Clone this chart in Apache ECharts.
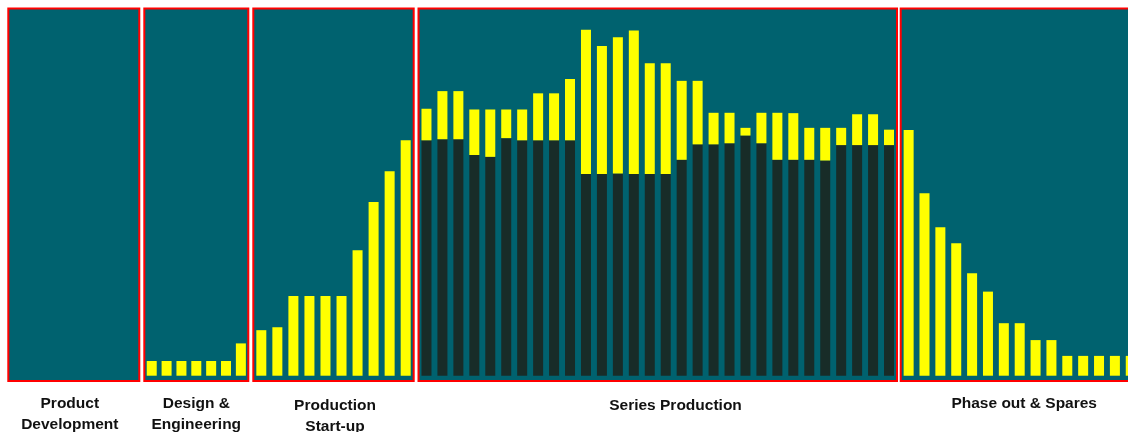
<!DOCTYPE html>
<html>
<head>
<meta charset="utf-8">
<script src="https://cdn.jsdelivr.net/npm/echarts@6/dist/echarts.min.js"></script>
<style>
html,body{margin:0;padding:0;background:#ffffff;}
#chart{width:1128px;height:432px;}
</style>
</head>
<body>
<div id="chart"></div>
<script>
// ---- data ----
const phaseNames = ['Product\nDevelopment', 'Design &\nEngineering', 'Production\nStart-up', 'Series Production', 'Phase out & Spares'];
const productDevelopment = [];
const designEngineering = [4.0, 4.0, 4.0, 4.0, 4.0, 4.0, 8.8];
const productionStartUp = [12.4, 13.2, 21.7, 21.7, 21.7, 21.7, 34.2, 47.3, 55.7, 64.1];
const seriesBase = [64.1, 64.4, 64.4, 60.1, 59.6, 64.7, 64.1, 64.1, 64.1, 64.1,
                    54.9, 54.9, 55.1, 54.9, 54.9, 54.9, 58.8, 63.0, 63.0, 63.3,
                    65.4, 63.3, 58.8, 58.8, 58.8, 58.6, 62.8, 62.8, 62.8, 62.8];
const seriesExtra = [8.6, 13.1, 13.1, 12.4, 12.9, 7.8, 8.4, 12.8, 12.8, 16.7,
                     39.3, 34.9, 37.1, 39.1, 30.2, 30.2, 21.5, 17.3, 8.6, 8.3,
                     2.1, 8.3, 12.8, 12.7, 8.7, 8.9, 4.7, 8.4, 8.4, 4.2];
const phaseOutSpares = [66.9, 49.7, 40.4, 36.1, 27.9, 22.9, 14.3, 14.3, 9.7, 9.7, 5.4, 5.4, 5.4, 5.4, 5.4];

// ---- layout / style ----
const TEAL = '#00626f', YELLOW = '#ffff00', DARK = '#182c28', RED = '#ff0000';
const panels = [
  {left: 8.3,   width: 131,   cats: 8,  gap: 12.5, pad: [0, 8, 0, 0]},
  {left: 144.3, width: 104,   cats: designEngineering.length, gap: 12.5, pad: [0, 0, 0, 0]},
  {left: 253.3, width: 160.4, cats: productionStartUp.length, gap: 14.5, pad: [0, 0, 0, 3]},
  {left: 418.5, width: 478.5, cats: seriesBase.length, gap: 14.5, pad: [0, 0, 0, 35.5]},
  {left: 900.7, width: 238,   cats: phaseOutSpares.length, gap: 12, pad: [0, 0, 0, 9]}
];
const TOP = 8.5, HEIGHT = 372.5;

const grids = [], xAxes = [], yAxes = [];
panels.forEach((p, i) => {
  grids.push({
    left: p.left, top: TOP, width: p.width, height: HEIGHT,
    show: true, backgroundColor: TEAL, borderColor: RED, borderWidth: 2,
    containLabel: false, outerBoundsMode: 'none'
  });
  const cats = [];
  for (let k = 0; k < p.cats; k++) cats.push(String(k + 1));
  xAxes.push({
    type: 'category', gridIndex: i, data: cats,
    axisLine: {show: false, onZero: false}, axisTick: {show: false},
    axisLabel: {show: false}, splitLine: {show: false},
    name: phaseNames[i], nameLocation: 'middle', nameGap: p.gap,
    nameTextStyle: {
      fontFamily: '"Liberation Sans", Arial, sans-serif', fontWeight: 'bold',
      fontSize: 15.5, lineHeight: 20.5, color: '#111', padding: p.pad
    }
  });
  yAxes.push({
    type: 'value', gridIndex: i, min: -1.44, max: 100, show: false,
    splitLine: {show: false}
  });
});

const barCommon = {type: 'bar', barWidth: 10, silent: true};
const series = [
  Object.assign({}, barCommon, {xAxisIndex: 0, yAxisIndex: 0, data: productDevelopment, itemStyle: {color: YELLOW}}),
  Object.assign({}, barCommon, {xAxisIndex: 1, yAxisIndex: 1, data: designEngineering, itemStyle: {color: YELLOW}}),
  Object.assign({}, barCommon, {xAxisIndex: 2, yAxisIndex: 2, data: productionStartUp, itemStyle: {color: YELLOW}}),
  Object.assign({}, barCommon, {xAxisIndex: 3, yAxisIndex: 3, stack: 'sp', data: seriesBase, itemStyle: {color: DARK}}),
  Object.assign({}, barCommon, {xAxisIndex: 3, yAxisIndex: 3, stack: 'sp', data: seriesExtra, itemStyle: {color: YELLOW}}),
  Object.assign({}, barCommon, {xAxisIndex: 4, yAxisIndex: 4, data: phaseOutSpares, itemStyle: {color: YELLOW}})
];

const chart = echarts.init(document.getElementById('chart'), null, {renderer: 'canvas'});
chart.setOption({
  animation: false,
  backgroundColor: '#ffffff',
  grid: grids, xAxis: xAxes, yAxis: yAxes, series: series
});
</script>
</body>
</html>
